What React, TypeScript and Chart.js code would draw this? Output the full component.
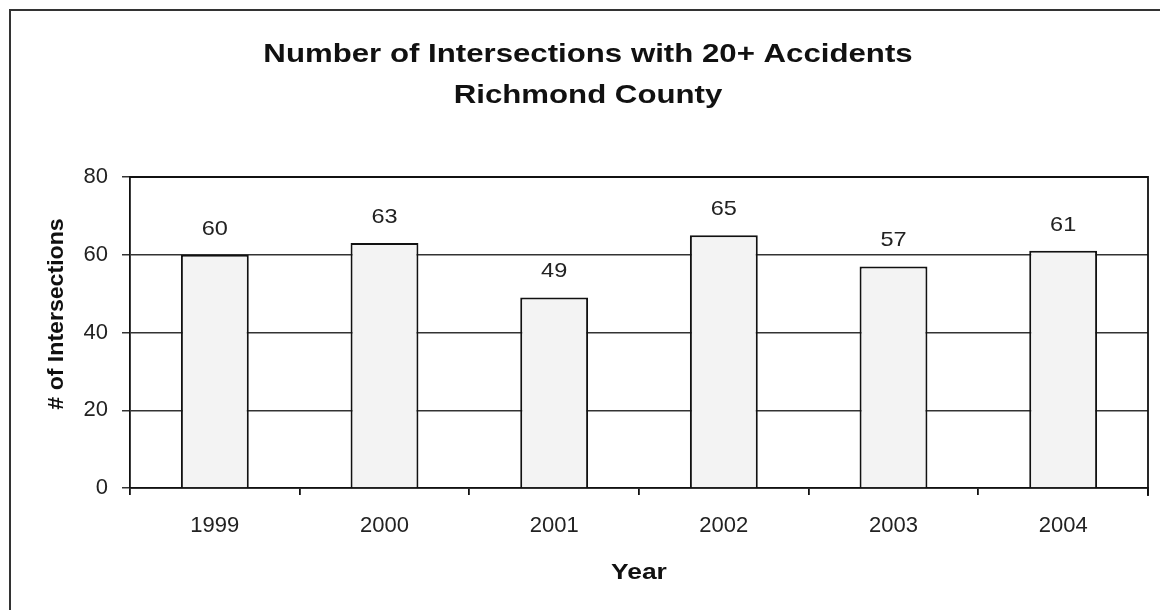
import React, { useEffect, useRef } from "react";
import { Chart, registerables } from "chart.js";

Chart.register(...registerables);

const years = ["1999", "2000", "2001", "2002", "2003", "2004"];
const counts = [60, 63, 49, 65, 57, 61];
const titleLines = ["Number of Intersections with 20+ Accidents", "Richmond County"];
const yTitle = "# of Intersections";
const xTitle = "Year";

const FONT = "'Liberation Sans', Arial, sans-serif";

function stretchText(ctx: any, text: string, x: number, y: number, font: string, sx: number) {
  ctx.save();
  ctx.translate(x, y);
  ctx.scale(sx, 1);
  ctx.font = font;
  ctx.textAlign = "center";
  ctx.textBaseline = "middle";
  ctx.fillText(text, 0, 0);
  ctx.restore();
}

const decorPlugin = {
  id: "decor",
  afterDraw(chart: any) {
    const ctx = chart.ctx;
    const area = chart.chartArea;
    ctx.save();
    // outer frame
    ctx.strokeStyle = "#333";
    ctx.lineWidth = 2;
    ctx.beginPath();
    ctx.moveTo(10, 610);
    ctx.lineTo(10, 10);
    ctx.lineTo(1160, 10);
    ctx.stroke();
    // plot border top and right
    ctx.strokeStyle = "#111";
    ctx.lineWidth = 1.8;
    ctx.beginPath();
    ctx.moveTo(area.left, area.top);
    ctx.lineTo(area.right, area.top);
    ctx.lineTo(area.right, area.bottom + 8);
    ctx.stroke();
    // titles
    ctx.fillStyle = "#111";
    stretchText(ctx, titleLines[0], 588, 55, `bold 26px ${FONT}`, 1.2);
    stretchText(ctx, titleLines[1], 588, 96, `bold 26px ${FONT}`, 1.2);
    // axis titles
    stretchText(ctx, xTitle, 639, 573, `bold 22px ${FONT}`, 1.2);
    ctx.save();
    ctx.translate(57, 314);
    ctx.rotate(-Math.PI / 2);
    stretchText(ctx, yTitle, 0, 0, `bold 22px ${FONT}`, 1.05);
    ctx.restore();
    // data labels
    ctx.fillStyle = "#222";
    const meta = chart.getDatasetMeta(0);
    meta.data.forEach((bar: any, i: number) => {
      stretchText(ctx, String(counts[i]), bar.x, bar.y - 26, `21px ${FONT}`, 1.12);
    });
    ctx.restore();
  },
};

export default function App() {
  const ref = useRef<HTMLCanvasElement>(null);
  useEffect(() => {
    document.body.style.margin = "0";
    const chart = new Chart(ref.current!, {
      type: "bar",
      data: {
        labels: years,
        datasets: [
          {
            data: counts,
            backgroundColor: "#f3f3f3",
            borderColor: "#111",
            borderWidth: 2,
            barPercentage: 0.4,
            categoryPercentage: 1,
          },
        ],
      },
      options: {
        animation: false,
        responsive: false,
        layout: { padding: { left: 10, right: 12, top: 177, bottom: 0 } },
        plugins: { legend: { display: false }, tooltip: { enabled: false } },
        scales: {
          x: {
            offset: true,
            grid: {
              offset: true,
              drawOnChartArea: false,
              drawTicks: true,
              tickLength: 7,
              color: "#111",
              lineWidth: 1.8,
            },
            border: { color: "#111", width: 1.8 },
            ticks: { color: "#222", font: { family: FONT, size: 22 }, padding: 18 },
            afterFit(s: any) {
              s.height = 122;
            },
          },
          y: {
            min: 0,
            max: 80,
            ticks: { stepSize: 20, color: "#222", font: { family: FONT, size: 22 }, padding: 14 },
            grid: { color: "#333", lineWidth: 1.5, tickLength: 8, drawTicks: true },
            border: { color: "#111", width: 1.8 },
            afterFit(s: any) {
              s.width = 120;
            },
          },
        },
      },
      plugins: [decorPlugin],
    });
    return () => chart.destroy();
  }, []);
  return (
    <div style={{ position: "absolute", left: 0, top: 0, width: 1160, height: 610, background: "#fff" }}>
      <canvas ref={ref} width={1160} height={610} />
    </div>
  );
}
